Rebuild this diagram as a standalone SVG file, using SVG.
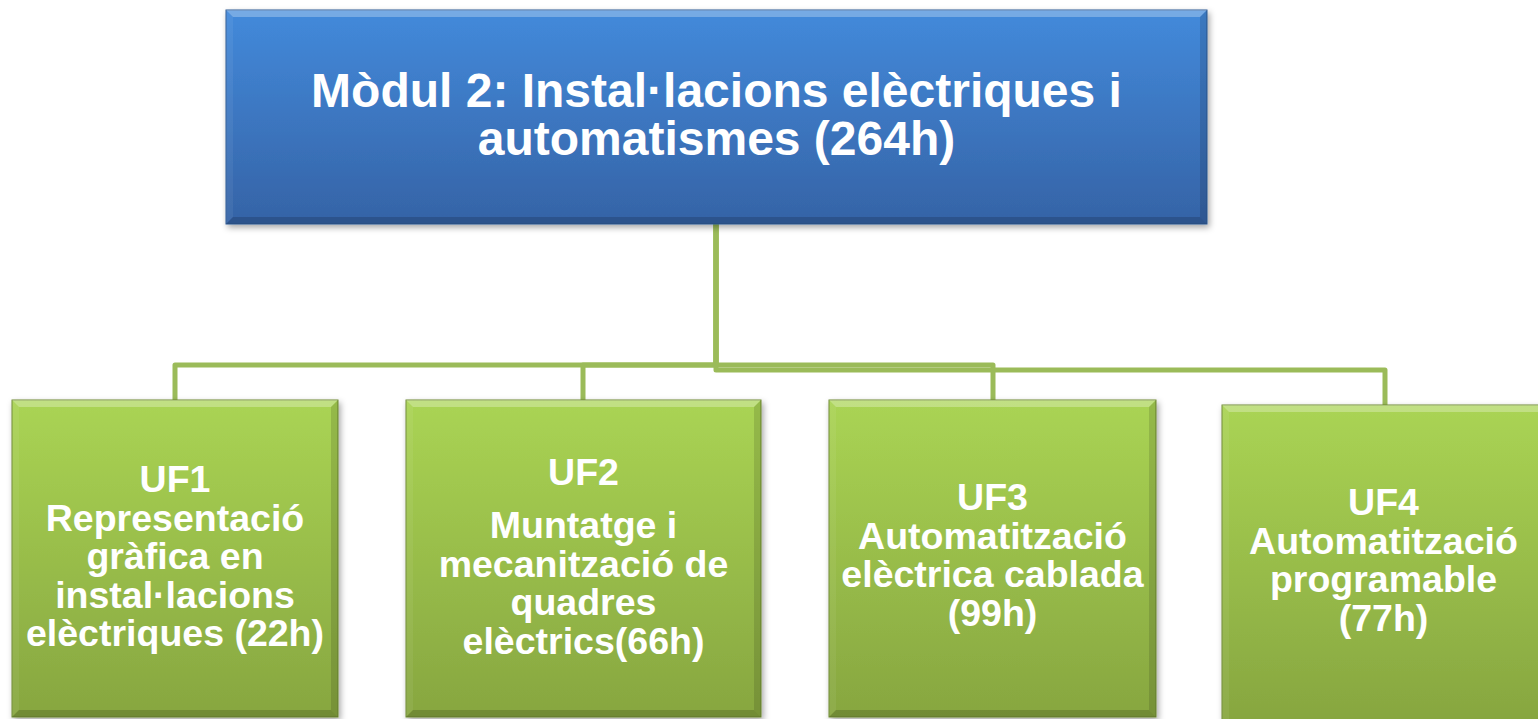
<svg xmlns="http://www.w3.org/2000/svg" width="1538" height="719" viewBox="0 0 1538 719">
<style>
.t{font-family:"Liberation Sans",Arial,sans-serif;font-weight:bold;fill:#ffffff;text-anchor:middle}
.title{font-size:48px}
.uf{font-size:37.5px}
.conn{fill:none;stroke:#9BBB59;stroke-width:5;stroke-linejoin:round}
.hi{fill:#ffffff;opacity:0.28}
.hl{fill:#ffffff;opacity:0.06}
.dr{fill:#000000;opacity:0.12}
.db{fill:#000000;opacity:0.16}
</style>
<defs>
<linearGradient id="gBlue" x1="0" y1="0" x2="0" y2="1">
<stop offset="0" stop-color="#438ADB"/>
<stop offset="1" stop-color="#3563A6"/>
</linearGradient>
<linearGradient id="gGreen" x1="0" y1="0" x2="0" y2="1">
<stop offset="0" stop-color="#AAD454"/>
<stop offset="1" stop-color="#87A640"/>
</linearGradient>
<filter id="sh" x="-10%" y="-10%" width="120%" height="125%">
<feDropShadow dx="2" dy="3" stdDeviation="3" flood-color="#000" flood-opacity="0.35"/>
</filter>
</defs>
<rect width="1538" height="719" fill="#ffffff"/>
<g id="connectors">
<path class="conn" d="M716 224 V365 H175 V400"/>
<path class="conn" d="M716 224 V365 H583 V400"/>
<path class="conn" d="M716 224 V365 H993 V400"/>
<path class="conn" d="M716 224 V370 H1385 V405"/>
</g>
<g id="modul2">
<rect x="226" y="10" width="981" height="214" fill="url(#gBlue)" stroke="#2f5a94" stroke-width="1" filter="url(#sh)"/>
<polygon class="hi" points="226,10 1207,10 1200,17 233,17"/>
<polygon class="hl" points="226,10 233,17 233,217 226,224"/>
<polygon class="dr" points="1207,10 1207,224 1200,217 1200,17"/>
<polygon class="db" points="226,224 1207,224 1200,217 233,217"/>
<text class="t title" x="716.5" y="107">Mòdul 2: Instal·lacions elèctriques i</text>
<text class="t title" x="716.5" y="155">automatismes (264h)</text>
</g>
<g id="uf1">
<rect x="12" y="400" width="326" height="317" fill="url(#gGreen)" stroke="#6f8a34" stroke-width="1" filter="url(#sh)"/>
<polygon class="hi" points="12,400 338,400 331,407 19,407"/>
<polygon class="hl" points="12,400 19,407 19,710 12,717"/>
<polygon class="dr" points="338,400 338,717 331,710 331,407"/>
<polygon class="db" points="12,717 338,717 331,710 19,710"/>
<text class="t uf" x="175" y="492">UF1</text>
<text class="t uf" x="175" y="530.5">Representació</text>
<text class="t uf" x="175" y="569">gràfica en</text>
<text class="t uf" x="175" y="607.5">instal·lacions</text>
<text class="t uf" x="175" y="646">elèctriques (22h)</text>
</g>
<g id="uf2">
<rect x="406" y="400" width="355" height="317" fill="url(#gGreen)" stroke="#6f8a34" stroke-width="1" filter="url(#sh)"/>
<polygon class="hi" points="406,400 761,400 754,407 413,407"/>
<polygon class="hl" points="406,400 413,407 413,710 406,717"/>
<polygon class="dr" points="761,400 761,717 754,710 754,407"/>
<polygon class="db" points="406,717 761,717 754,710 413,710"/>
<text class="t uf" x="583.5" y="485">UF2</text>
<text class="t uf" x="583.5" y="538">Muntatge i</text>
<text class="t uf" x="583.5" y="576.5">mecanització de</text>
<text class="t uf" x="583.5" y="615">quadres</text>
<text class="t uf" x="583.5" y="653.5">elèctrics(66h)</text>
</g>
<g id="uf3">
<rect x="829" y="400" width="327" height="317" fill="url(#gGreen)" stroke="#6f8a34" stroke-width="1" filter="url(#sh)"/>
<polygon class="hi" points="829,400 1156,400 1149,407 836,407"/>
<polygon class="hl" points="829,400 836,407 836,710 829,717"/>
<polygon class="dr" points="1156,400 1156,717 1149,710 1149,407"/>
<polygon class="db" points="829,717 1156,717 1149,710 836,710"/>
<text class="t uf" x="992.5" y="510">UF3</text>
<text class="t uf" x="992.5" y="548.5">Automatització</text>
<text class="t uf" x="992.5" y="587">elèctrica cablada</text>
<text class="t uf" x="992.5" y="625.5">(99h)</text>
</g>
<g id="uf4">
<rect x="1222" y="405" width="323" height="316" fill="url(#gGreen)" stroke="#6f8a34" stroke-width="1" filter="url(#sh)"/>
<polygon class="hi" points="1222,405 1545,405 1538,412 1229,412"/>
<polygon class="hl" points="1222,405 1229,412 1229,719 1222,721"/>
<text class="t uf" x="1383.5" y="515">UF4</text>
<text class="t uf" x="1383.5" y="553.5">Automatització</text>
<text class="t uf" x="1383.5" y="592">programable</text>
<text class="t uf" x="1383.5" y="630.5">(77h)</text>
</g>
</svg>
